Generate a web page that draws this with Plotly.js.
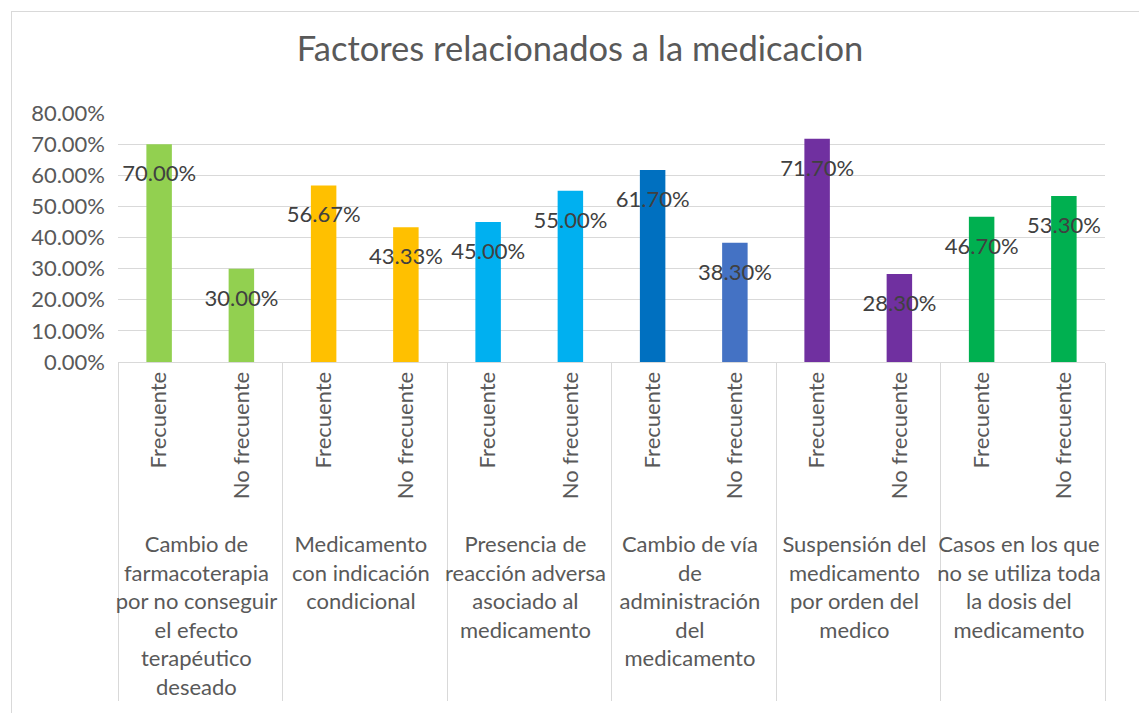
<!DOCTYPE html>
<html>
<head>
<meta charset="utf-8">
<script src="https://cdn.plot.ly/plotly-3.0.1.min.js"></script>
<style>
  html, body { margin: 0; padding: 0; background: #ffffff; }
  #wrap { position: relative; width: 1139px; height: 713px; overflow: hidden; }
  #frame { position: absolute; left: 11px; top: 11px; width: 1200px; height: 800px;
           border-left: 1px solid #D9D9D9; border-top: 1px solid #D9D9D9; pointer-events: none; z-index: 5; }
  #chart { position: absolute; left: 0; top: 0; width: 1139px; height: 713px; }
</style>
</head>
<body>
<div id="wrap">
  <div id="chart"></div>
  <div id="frame"></div>
</div>
<script>
// ---- data ----
const groups = [
  "Cambio de<br>farmacoterapia<br>por no conseguir<br>el efecto<br>terapéutico<br>deseado",
  "Medicamento<br>con indicación<br>condicional",
  "Presencia de<br>reacción adversa<br>asociado al<br>medicamento",
  "Cambio de vía<br>de<br>administración<br>del<br>medicamento",
  "Suspensión del<br>medicamento<br>por orden del<br>medico",
  "Casos en los que<br>no se utiliza toda<br>la dosis del<br>medicamento"
];
const subLabels = ["Frecuente", "No frecuente"];
const values = [70.00, 30.00, 56.67, 43.33, 45.00, 55.00, 61.70, 38.30, 71.70, 28.30, 46.70, 53.30];
const barColors = ["#92D050", "#92D050", "#FFC000", "#FFC000", "#00B0F0", "#00B0F0",
                   "#0070C0", "#4472C4", "#7030A0", "#7030A0", "#00B050", "#00B050"];
const yTicks = [0, 10, 20, 30, 40, 50, 60, 70, 80];
const yTickText = yTicks.map(v => v.toFixed(2) + "%");

// leading no-break spaces only add room below the rotated labels (text stays top-aligned)
const PAD = "\u00A0\u00A0";

// build multicategory x from the arrays
const xGroup = [], xSub = [];
groups.forEach(g => subLabels.forEach(s => { xGroup.push(g); xSub.push(PAD + s); }));

const FONT = "Lato, 'Open Sans', sans-serif";

const bars = {
  type: "bar",
  x: [xGroup, xSub],
  y: values,
  marker: { color: barColors, line: { width: 0 } },
  hoverinfo: "skip",
  showlegend: false
};

const labels = {
  type: "scatter",
  mode: "markers+text",
  x: [xGroup, xSub],
  y: values,
  text: values.map(v => v.toFixed(2) + "%"),
  textposition: "bottom center",
  textfont: { family: FONT, size: 22, color: "#404040" },
  marker: { size: 31, opacity: 0 },
  hoverinfo: "skip",
  cliponaxis: false,
  showlegend: false
};

const layout = {
  width: 1139,
  height: 713,
  paper_bgcolor: "rgba(0,0,0,0)",
  plot_bgcolor: "#ffffff",
  margin: { l: 118, r: 34, t: 113, b: 351 },
  bargap: 0.69,
  font: { family: FONT, color: "#595959" },
  title: {
    text: "Factores relacionados a la medicacion",
    font: { family: FONT, size: 34.5, color: "#595959" },
    x: 580 / 1139, xref: "container", xanchor: "center",
    y: 1 - 49 / 713, yref: "container", yanchor: "middle"
  },
  xaxis: {
    type: "multicategory",
    range: [-0.5, values.length - 0.5],
    autorange: false,
    tickangle: -90,
    tickfont: { family: FONT, size: 22, color: "#595959" },
    showline: true,
    linecolor: "#D9D9D9",
    linewidth: 1,
    ticks: "",
    showdividers: true,
    dividercolor: "#D9D9D9",
    dividerwidth: 1,
    showgrid: false,
    fixedrange: true
  },
  yaxis: {
    range: [0, 80],
    autorange: false,
    tickmode: "array",
    tickvals: yTicks,
    ticktext: yTickText,
    tickfont: { family: FONT, size: 22, color: "#595959" },
    showgrid: true,
    gridcolor: "#D9D9D9",
    gridwidth: 1,
    zeroline: false,
    showline: false,
    ticks: "",
    ticklabelstandoff: 12,
    fixedrange: true
  }
};

Plotly.newPlot("chart", [bars, labels], layout, { displayModeBar: false, staticPlot: true });
</script>
</body>
</html>
